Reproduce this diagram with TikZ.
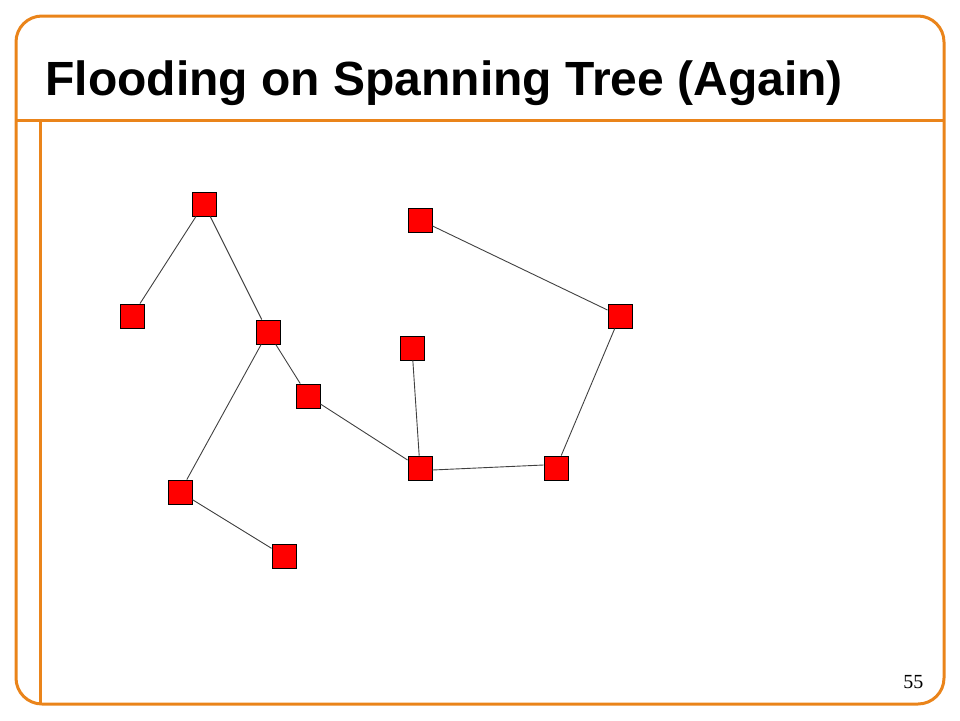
\documentclass[tikz,border=0pt]{standalone}
\usepackage{fontspec}
\setmainfont{Liberation Serif}
\newfontfamily\titlefont{Liberation Sans}
\definecolor{slideorange}{RGB}{234,132,26}
\tikzset{
  router/.style={draw=black, fill=red, minimum size=24pt, inner sep=0pt, line width=0.9pt},
  link/.style={draw=black!75, line width=0.9pt},
  frame/.style={draw=slideorange, line width=3pt}
}
\begin{document}
\begin{tikzpicture}[x=1pt,y=-1pt]
\useasboundingbox (0,0) rectangle (960,720);

% slide frame
\draw[frame, rounded corners=26pt] (16,16) rectangle (944,704);
\draw[frame] (16,120) -- (944,120);
\draw[frame] (40,120) -- (40,704);

\node[anchor=base west, font=\titlefont\bfseries\fontsize{48}{57}\selectfont] (title) at (42,95) {Flooding on Spanning Tree (Again)};
\node[anchor=base east, font=\fontsize{20}{24}\selectfont] (pagenum) at (927,688) {55};

% routers
\foreach \name/\x/\y in {a/204/204, b/132/316, c/268/332, d/308/396, e/180/492, f/284/556,
                         g/420/220, h/620/316, i/412/348, j/420/468, k/556/468}
    \node[router] (\name) at (\x,\y) {};

% tree links
\foreach \u/\v in {a/b, a/c, c/d, c/e, e/f, d/j, i/j, k/h, h/g}
    \draw[link] (\u) -- (\v);
\draw[link] ([yshift=-2pt]j.east) -- ([yshift=3pt]k.west);

\end{tikzpicture}
\end{document}
